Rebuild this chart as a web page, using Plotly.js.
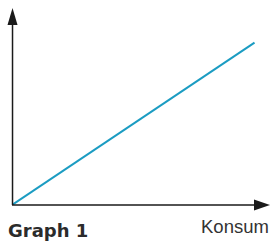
<!DOCTYPE html>
<html><head><meta charset="utf-8">
<script src="https://cdn.plot.ly/plotly-3.0.1.min.js"></script>
<style>html,body{margin:0;padding:0;background:#fff;}</style>
</head><body>
<div id="chart" style="width:273px;height:244px;"></div>
<script>
const consumption = [0, 9.4];
const value = [0, 8.24];
const chartTitle = "Graph 1";
const xLabel = "Konsum";

const trace = {x: consumption, y: value, type: 'scatter', mode: 'lines',
  line: {color: '#1b9cc2', width: 2}, hoverinfo: 'skip'};

const axisColor = '#1a1a1a';
const layout = {
  width: 273, height: 244,
  margin: {l: 12, r: 3, t: 8, b: 39},
  paper_bgcolor: '#fff', plot_bgcolor: '#fff',
  showlegend: false,
  xaxis: {range: [0, 10], showgrid: false, zeroline: false, showticklabels: false, ticks: '', showline: false, fixedrange: true},
  yaxis: {range: [0, 10], showgrid: false, zeroline: false, showticklabels: false, ticks: '', showline: false, fixedrange: true},
  shapes: [
    {type: 'line', xref: 'paper', yref: 'paper', x0: 0.002, y0: 0, x1: 0.002, y1: 0.92, line: {color: axisColor, width: 1.5}},
    {type: 'line', xref: 'paper', yref: 'paper', x0: 0, y0: 0, x1: 0.95, y1: 0, line: {color: axisColor, width: 1.5}},
    {type: 'path', xref: 'paper', yref: 'paper', path: 'M 0.002 1 L -0.0174 0.914 L 0.0214 0.914 Z', fillcolor: axisColor, line: {width: 0}},
    {type: 'path', xref: 'paper', yref: 'paper', path: 'M 1 0 L 0.938 0.028 L 0.938 -0.028 Z', fillcolor: axisColor, line: {width: 0}}
  ],
  annotations: [
    {text: '<b>' + chartTitle + '</b>', xref: 'paper', yref: 'paper', x: -0.023, y: -0.127, xanchor: 'left', yanchor: 'middle', showarrow: false,
     font: {family: 'DejaVu Sans, sans-serif', size: 18, color: '#2b2b2b'}},
    {text: xLabel, xref: 'paper', yref: 'paper', x: 1.005, y: -0.107, xanchor: 'right', yanchor: 'middle', showarrow: false,
     font: {family: 'Liberation Sans, Arial, sans-serif', size: 18.5, color: '#333333'}}
  ]
};
Plotly.newPlot('chart', [trace], layout, {displayModeBar: false, staticPlot: true});
</script>
</body></html>
